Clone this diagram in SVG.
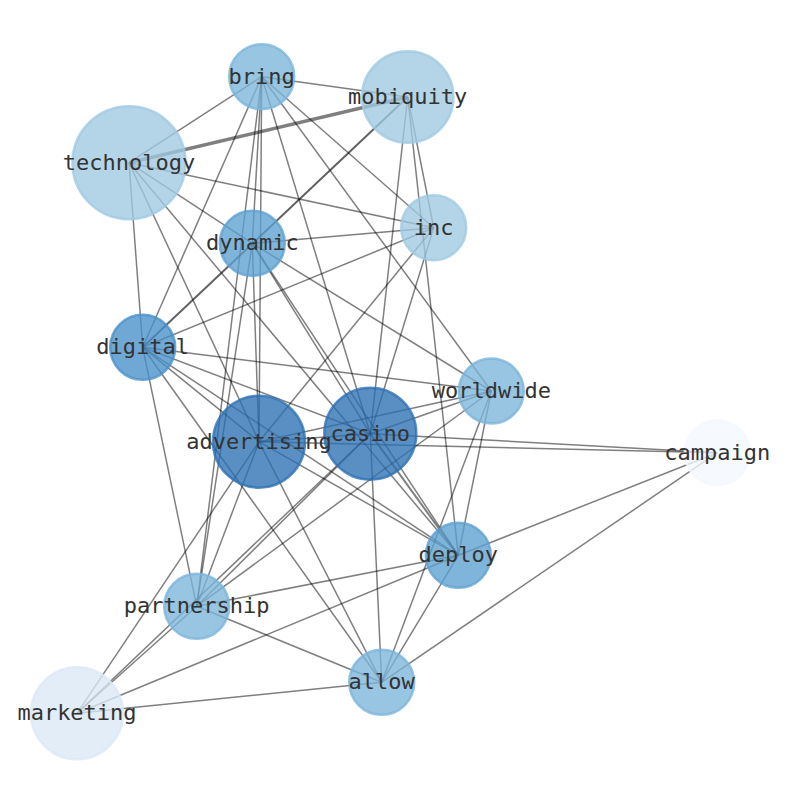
<svg xmlns="http://www.w3.org/2000/svg" width="794" height="790" viewBox="0 0 794 790">
<style>
.e line{stroke:#000;stroke-opacity:0.5;stroke-width:1.5;fill:none}
.n circle{fill-opacity:0.78;stroke-opacity:0.78;stroke-width:2.5}
.n text{font-family:"DejaVu Sans Mono",monospace;font-size:22px;fill:#333;text-anchor:middle}
.c1 circle{fill:#2b6fb3;stroke:#2b6fb3}
.c2 circle{fill:#488fc9;stroke:#488fc9}
.c3 circle{fill:#5ca0d1;stroke:#5ca0d1}
.c4 circle{fill:#7ab5da;stroke:#7ab5da}
.c5 circle{fill:#9fc9e2;stroke:#9fc9e2}
.c6 circle{fill:#dbe8f6;stroke:#dbe8f6}
.c7 circle{fill:#f3f7fe;stroke:#f3f7fe}
</style>
<rect width="794" height="790" fill="#fff"/>
<g id="edges" class="e">
<line x1="261.7" y1="76.7" x2="407.7" y2="97"/>
<line x1="261.7" y1="76.7" x2="129" y2="162.7"/>
<line x1="261.7" y1="76.7" x2="142.7" y2="347.3"/>
<line x1="261.7" y1="76.7" x2="252.3" y2="243.3"/>
<line x1="261.7" y1="76.7" x2="259" y2="441.7"/>
<line x1="261.7" y1="76.7" x2="196.7" y2="606.3"/>
<line x1="261.7" y1="76.7" x2="370.3" y2="433.7"/>
<line x1="261.7" y1="76.7" x2="491.3" y2="391"/>
<line x1="261.7" y1="76.7" x2="433.7" y2="227.7"/>
<line x1="407.7" y1="97" x2="129" y2="162.7" style="stroke-width:3.5"/>
<line x1="407.7" y1="97" x2="142.7" y2="347.3" style="stroke-width:2;stroke-opacity:0.62"/>
<line x1="407.7" y1="97" x2="370.3" y2="433.7"/>
<line x1="407.7" y1="97" x2="458.3" y2="555.3"/>
<line x1="407.7" y1="97" x2="433.7" y2="227.7"/>
<line x1="129" y1="162.7" x2="433.7" y2="227.7"/>
<line x1="129" y1="162.7" x2="142.7" y2="347.3"/>
<line x1="129" y1="162.7" x2="252.3" y2="243.3"/>
<line x1="129" y1="162.7" x2="259" y2="441.7"/>
<line x1="129" y1="162.7" x2="458.3" y2="555.3"/>
<line x1="433.7" y1="227.7" x2="252.3" y2="243.3"/>
<line x1="433.7" y1="227.7" x2="142.7" y2="347.3"/>
<line x1="433.7" y1="227.7" x2="259" y2="441.7"/>
<line x1="433.7" y1="227.7" x2="370.3" y2="433.7"/>
<line x1="252.3" y1="243.3" x2="259" y2="441.7"/>
<line x1="252.3" y1="243.3" x2="196.7" y2="606.3"/>
<line x1="252.3" y1="243.3" x2="491.3" y2="391"/>
<line x1="252.3" y1="243.3" x2="370.3" y2="433.7"/>
<line x1="252.3" y1="243.3" x2="458.3" y2="555.3"/>
<line x1="142.7" y1="347.3" x2="491.3" y2="391"/>
<line x1="142.7" y1="347.3" x2="370.3" y2="433.7"/>
<line x1="142.7" y1="347.3" x2="259" y2="441.7"/>
<line x1="142.7" y1="347.3" x2="458.3" y2="555.3"/>
<line x1="142.7" y1="347.3" x2="381.7" y2="682.3"/>
<line x1="142.7" y1="347.3" x2="196.7" y2="606.3"/>
<line x1="259" y1="441.7" x2="491.3" y2="391"/>
<line x1="259" y1="441.7" x2="717.3" y2="452.7"/>
<line x1="259" y1="441.7" x2="458.3" y2="555.3"/>
<line x1="259" y1="441.7" x2="381.7" y2="682.3"/>
<line x1="259" y1="441.7" x2="196.7" y2="606.3"/>
<line x1="259" y1="441.7" x2="77" y2="713.3"/>
<line x1="259" y1="441.7" x2="370.3" y2="433.7"/>
<line x1="370.3" y1="433.7" x2="491.3" y2="391"/>
<line x1="370.3" y1="433.7" x2="717.3" y2="452.7"/>
<line x1="370.3" y1="433.7" x2="458.3" y2="555.3" style="stroke-width:2"/>
<line x1="370.3" y1="433.7" x2="381.7" y2="682.3"/>
<line x1="370.3" y1="433.7" x2="196.7" y2="606.3"/>
<line x1="370.3" y1="433.7" x2="77" y2="713.3"/>
<line x1="491.3" y1="391" x2="458.3" y2="555.3"/>
<line x1="491.3" y1="391" x2="381.7" y2="682.3"/>
<line x1="491.3" y1="391" x2="196.7" y2="606.3"/>
<line x1="458.3" y1="555.3" x2="196.7" y2="606.3"/>
<line x1="458.3" y1="555.3" x2="77" y2="713.3"/>
<line x1="458.3" y1="555.3" x2="381.7" y2="682.3"/>
<line x1="458.3" y1="555.3" x2="717.3" y2="452.7"/>
<line x1="381.7" y1="682.3" x2="196.7" y2="606.3"/>
<line x1="381.7" y1="682.3" x2="77" y2="713.3"/>
<line x1="381.7" y1="682.3" x2="717.3" y2="452.7"/>
<line x1="196.7" y1="606.3" x2="77" y2="713.3"/>
</g>
<g id="node-technology" class="n c5"><circle cx="129" cy="162.7" r="56.5"/><text x="129" y="169.5">technology</text></g>
<g id="node-mobiquity" class="n c5"><circle cx="407.7" cy="97" r="45.7"/><text x="407.7" y="103.8">mobiquity</text></g>
<g id="node-inc" class="n c5"><circle cx="433.7" cy="227.7" r="32.5"/><text x="433.7" y="234.5">inc</text></g>
<g id="node-bring" class="n c4"><circle cx="261.7" cy="76.7" r="32.5"/><text x="261.7" y="83.5">bring</text></g>
<g id="node-dynamic" class="n c3"><circle cx="252.3" cy="243.3" r="32.5"/><text x="252.3" y="250.1">dynamic</text></g>
<g id="node-digital" class="n c2"><circle cx="142.7" cy="347.3" r="32.5"/><text x="142.7" y="354.1">digital</text></g>
<g id="node-worldwide" class="n c4"><circle cx="491.3" cy="391" r="32.5"/><text x="491.3" y="397.8">worldwide</text></g>
<g id="node-casino" class="n c1"><circle cx="370.3" cy="433.7" r="46"/><text x="370.3" y="440.5">casino</text></g>
<g id="node-advertising" class="n c1"><circle cx="259" cy="441.7" r="46"/><text x="259" y="448.5">advertising</text></g>
<g id="node-campaign" class="n c7"><circle cx="717.3" cy="452.7" r="32.5"/><text x="717.3" y="459.5">campaign</text></g>
<g id="node-deploy" class="n c3"><circle cx="458.3" cy="555.3" r="32.5"/><text x="458.3" y="562.1">deploy</text></g>
<g id="node-partnership" class="n c4"><circle cx="196.7" cy="606.3" r="32.5"/><text x="196.7" y="613.1">partnership</text></g>
<g id="node-allow" class="n c4"><circle cx="381.7" cy="682.3" r="32.5"/><text x="381.7" y="689.1">allow</text></g>
<g id="node-marketing" class="n c6"><circle cx="77" cy="713.3" r="46"/><text x="77" y="720.1">marketing</text></g>
</svg>
